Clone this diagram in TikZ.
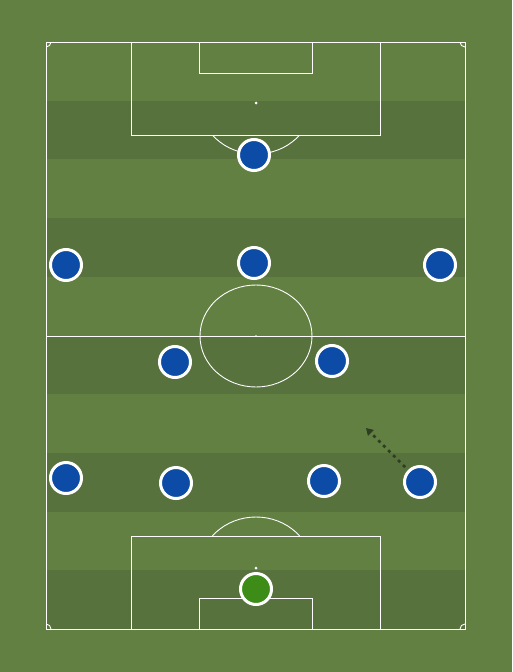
\documentclass[tikz,border=0pt]{standalone}
\usepackage{tikz}
\usetikzlibrary{arrows.meta,shadows}
\definecolor{grass}{RGB}{99,128,67}
\definecolor{stripe}{RGB}{88,114,62}
\definecolor{kit}{RGB}{13,76,166}
\definecolor{keeper}{RGB}{60,140,23}
\definecolor{runline}{RGB}{45,62,35}

\begin{document}
\begin{tikzpicture}[x=1pt,y=-1pt,
    line/.style={draw=white, line width=0.9pt},
    player/.style={draw=white, circle, line width=3pt, fill=kit, minimum size=31pt, inner sep=0pt,
        drop shadow={shadow xshift=0pt, shadow yshift=-1.5pt, opacity=0.25}}]
        \fill[grass] (0,0) rectangle (512,672);
        \useasboundingbox (0,0) rectangle (512,672);
        \foreach \i in {1,3,5,7,9}
            \fill[stripe] (46,42+\i*58.7) rectangle ++(419,58.7);

        % pitch
        \draw[line] (46,42) rectangle (465,629);
        \draw[line] (46,336) -- (465,336);
        \draw[line] (256,336) ellipse [x radius=56, y radius=51];
        \fill[white] (256,336) circle (1pt);
        \draw[line] (131,42) rectangle (380,135);
        \draw[line] (199,42) rectangle (312,73);
        \fill[white] (256,103) circle (1.5pt);
        \draw[line] (131,536) rectangle (380,629);
        \draw[line] (199,598) rectangle (312,629);
        \fill[white] (256,568) circle (1.5pt);
        \begin{scope}
            \clip (46,135) rectangle (465,200);
            \draw[line] (256,103) ellipse [x radius=56, y radius=51];
        \end{scope}
        \begin{scope}
            \clip (46,470) rectangle (465,536);
            \draw[line] (256,568) ellipse [x radius=56, y radius=51];
        \end{scope}
        \begin{scope}
            \clip (46,42) rectangle (465,629);
            \foreach \cx/\cy in {46/42, 465/42, 46/629, 465/629}
                \draw[line] (\cx,\cy) circle (5pt);
        \end{scope}

        % players
        \node[player] (0) at (254,155) {};
        \node[player] (1) at (66,265) {};
        \node[player] (2) at (254,263) {};
        \node[player] (3) at (440,265) {};
        \node[player] (4) at (175,362) {};
        \node[player] (5) at (332,361) {};
        \node[player] (6) at (66,478) {};
        \node[player] (7) at (176,483) {};
        \node[player] (8) at (324,481) {};
        \node[player] (9) at (420,482) {};
        \node[player, fill=keeper] (10) at (256,589) {};

        \coordinate (run) at (366,428);
        \draw[runline, line width=2.8pt, dash pattern=on 3pt off 4pt, shorten <=4pt,
            -{Triangle[length=7pt,width=8pt]}] (9) -- (run);
\end{tikzpicture}
\end{document}
